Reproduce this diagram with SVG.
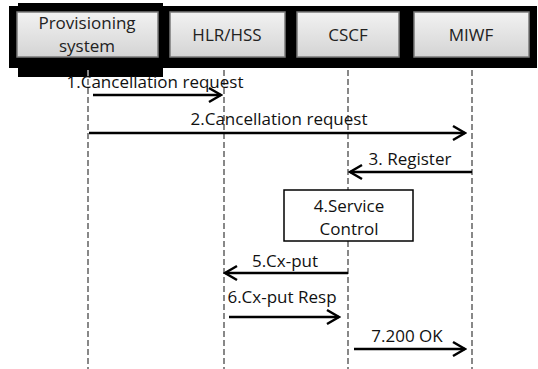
<svg xmlns="http://www.w3.org/2000/svg" width="538" height="369" viewBox="0 0 538 369">
  <style>
    .lbl { font-family: "Open Sans", "Noto Sans", "DejaVu Sans", sans-serif; font-size: 17px; fill: #111; }
    .head { font-family: "Open Sans", "Noto Sans", "DejaVu Sans", sans-serif; font-size: 17px; fill: #222; text-anchor: middle; }
    .box { fill: url(#boxFill); stroke: #7a7a7a; stroke-width: 1.5; }
    .life { stroke: #888; stroke-width: 2; stroke-dasharray: 6 3; fill: none; }
    .msg { stroke: #000; stroke-width: 2.5; fill: none; marker-end: url(#open); }
    .mid { text-anchor: middle; }
  </style>
  <defs>
    <linearGradient id="boxFill" x1="0" y1="0" x2="0" y2="1">
      <stop offset="0" stop-color="#f2f2f2"/>
      <stop offset="1" stop-color="#d4d4d4"/>
    </linearGradient>
    <marker id="open" markerUnits="userSpaceOnUse" viewBox="-16 -10 18 20" markerWidth="18" markerHeight="20" refX="0" refY="0" orient="auto">
      <path d="M-12,-7 L0,0 L-12,7" fill="none" stroke="#000" stroke-width="2.5"/>
    </marker>
  </defs>

  <!-- header band -->
  <rect x="9" y="6" width="528" height="62" fill="#000"/>
  <rect x="18" y="3" width="145" height="74" fill="#000"/>

  <!-- lifelines -->
  <g id="lifelines">
    <line class="life" x1="88" y1="70" x2="88" y2="369"/>
    <line class="life" x1="224" y1="70" x2="224" y2="369"/>
    <line class="life" x1="348" y1="70" x2="348" y2="369"/>
    <line class="life" x1="472" y1="70" x2="472" y2="369"/>
  </g>

  <g id="provisioning">
    <rect class="box" x="17" y="12" width="141" height="45"/>
    <text class="head" x="87" y="29">Provisioning</text>
    <text class="head" x="87" y="52">system</text>
  </g>
  <g id="hlr">
    <rect class="box" x="170" y="12" width="115" height="45"/>
    <text class="head" x="227" y="41">HLR/HSS</text>
  </g>
  <g id="cscf">
    <rect class="box" x="297" y="12" width="102" height="45"/>
    <text class="head" x="348" y="41">CSCF</text>
  </g>
  <g id="miwf">
    <rect class="box" x="414" y="12" width="115" height="45"/>
    <text class="head" x="471" y="41">MIWF</text>
  </g>

  <g id="service-control">
    <rect x="284" y="190" width="129" height="51" fill="#fff" stroke="#000" stroke-width="1.5"/>
    <text class="lbl mid" x="349" y="212">4.Service</text>
    <text class="lbl mid" x="349" y="235">Control</text>
  </g>

  <g id="messages">
    <line class="msg" x1="93" y1="95" x2="221" y2="95"/>
    <text class="lbl mid" x="155" y="88">1.Cancellation request</text>

    <line class="msg" x1="89" y1="133" x2="465" y2="133"/>
    <text class="lbl mid" x="279" y="125">2.Cancellation request</text>

    <line class="msg" x1="472" y1="172" x2="350" y2="172"/>
    <text class="lbl mid" x="410" y="165">3. Register</text>

    <line class="msg" x1="348" y1="273" x2="225" y2="273"/>
    <text class="lbl mid" x="285" y="267">5.Cx-put</text>

    <line class="msg" x1="229" y1="317" x2="339" y2="317"/>
    <text class="lbl mid" x="282" y="303">6.Cx-put Resp</text>

    <line class="msg" x1="354" y1="349" x2="465" y2="349"/>
    <text class="lbl mid" x="407" y="342">7.200 OK</text>
  </g>
</svg>
